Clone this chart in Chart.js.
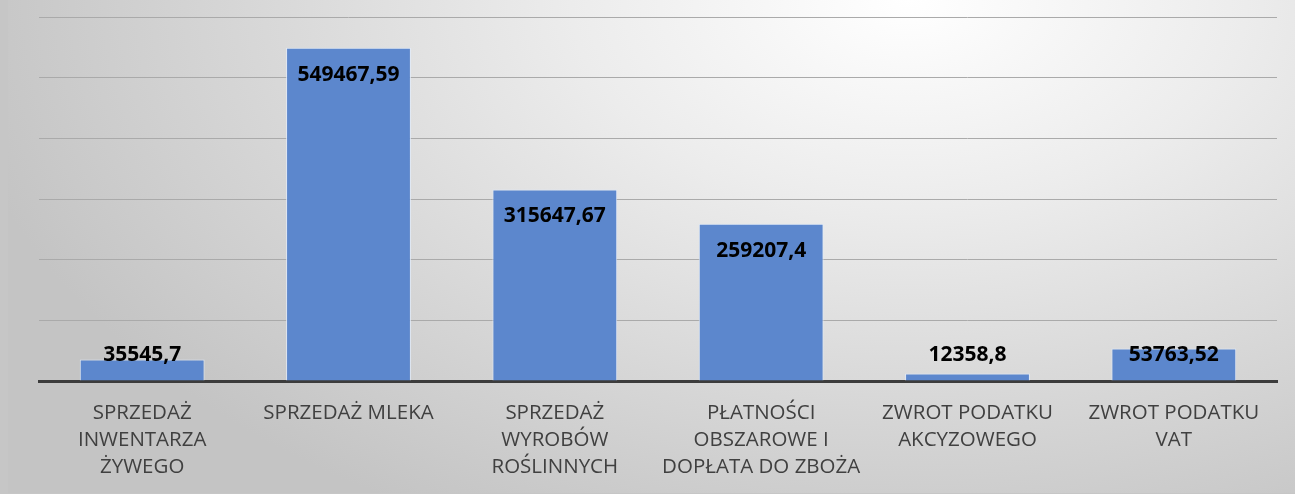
<!DOCTYPE html>
<html>
<head>
<meta charset="utf-8">
<script src="https://cdn.jsdelivr.net/npm/chart.js@4.4.0/dist/chart.umd.min.js"></script>
<style>
  html, body { margin: 0; padding: 0; }
  body { width: 1295px; height: 494px; background: #c6c6c6; overflow: hidden; }
  #wrap {
    position: absolute; left: 8px; top: 0; width: 1287px; height: 493px;
    background: radial-gradient(ellipse 75% 120% at 70% 0%, #ffffff 0%, #ececec 35%, #d6d6d6 70%, #c4c4c4 100%);
  }
  #chart { position: absolute; left: -8px; top: 0; }
</style>
</head>
<body>
<div id="wrap"><canvas id="chart" width="1295" height="494"></canvas></div>
<script>
// categories (wrapped the way the original chart wraps them)
const categories = [
    ['SPRZEDAŻ', 'INWENTARZA', 'ŻYWEGO'],
    ['SPRZEDAŻ MLEKA'],
    ['SPRZEDAŻ', 'WYROBÓW', 'ROŚLINNYCH'],
    ['PŁATNOŚCI', 'OBSZAROWE I', 'DOPŁATA DO ZBOŻA'],
    ['ZWROT PODATKU', 'AKCYZOWEGO'],
    ['ZWROT PODATKU', 'VAT']
];
const values = [35545.7, 549467.59, 315647.67, 259207.4, 12358.8, 53763.52];
const valueLabels = ['35545,7', '549467,59', '315647,67', '259207,4', '12358,8', '53763,52'];

// axis range
const yMin = 0;
const yMax = 600000;
const yStep = 100000;

const barColor = 'rgb(92,135,205)';

/**
 * Data labels at the inside end of each bar, pushed up for short bars
 */
const valueLabelPlugin = {
    id: 'valueLabels',
    afterDatasetsDraw(chart) {
        const ctx = chart.ctx;
        const meta = chart.getDatasetMeta(0);
        const base = chart.scales.y.getPixelForValue(0);
        ctx.save();
        ctx.font = 'bold 21px "Open Sans"';
        ctx.fillStyle = '#000000';
        ctx.textAlign = 'center';
        ctx.textBaseline = 'middle';
        meta.data.forEach((bar, i) => {
            const y = Math.min(bar.y + 27, base - 26);
            ctx.fillText(valueLabels[i], bar.x, y);
        });
        ctx.restore();
    }
};

const ctx = document.getElementById('chart').getContext('2d');
new Chart(ctx, {
    type: 'bar',
    data: {
        labels: categories,
        datasets: [{
            data: values,
            backgroundColor: barColor,
            borderColor: 'rgba(225,235,250,0.9)',
            borderWidth: 1,
            categoryPercentage: 0.605,
            barPercentage: 1.0
        }]
    },
    plugins: [valueLabelPlugin],
    options: {
        responsive: false,
        animation: false,
        layout: { padding: { left: 0, right: 18, top: 17, bottom: 0 } },
        plugins: {
            legend: { display: false },
            tooltip: { enabled: false }
        },
        scales: {
            x: {
                grid: { display: false, drawTicks: false },
                border: { display: true, color: '#3c3c3c', width: 3 },
                ticks: {
                    color: '#404040',
                    font: { family: '"Open Sans"', size: 20.5, lineHeight: 1.32 },
                    padding: 19,
                    maxRotation: 0,
                    autoSkip: false
                },
                afterFit(scale) { scale.height = 113; }
            },
            y: {
                min: yMin,
                max: yMax,
                ticks: { stepSize: yStep, display: false },
                grid: { color: '#aaaaaa', lineWidth: 1, drawTicks: false },
                border: { display: false },
                afterFit(scale) { scale.width = 39; }
            }
        }
    }
});
</script>
</body>
</html>
